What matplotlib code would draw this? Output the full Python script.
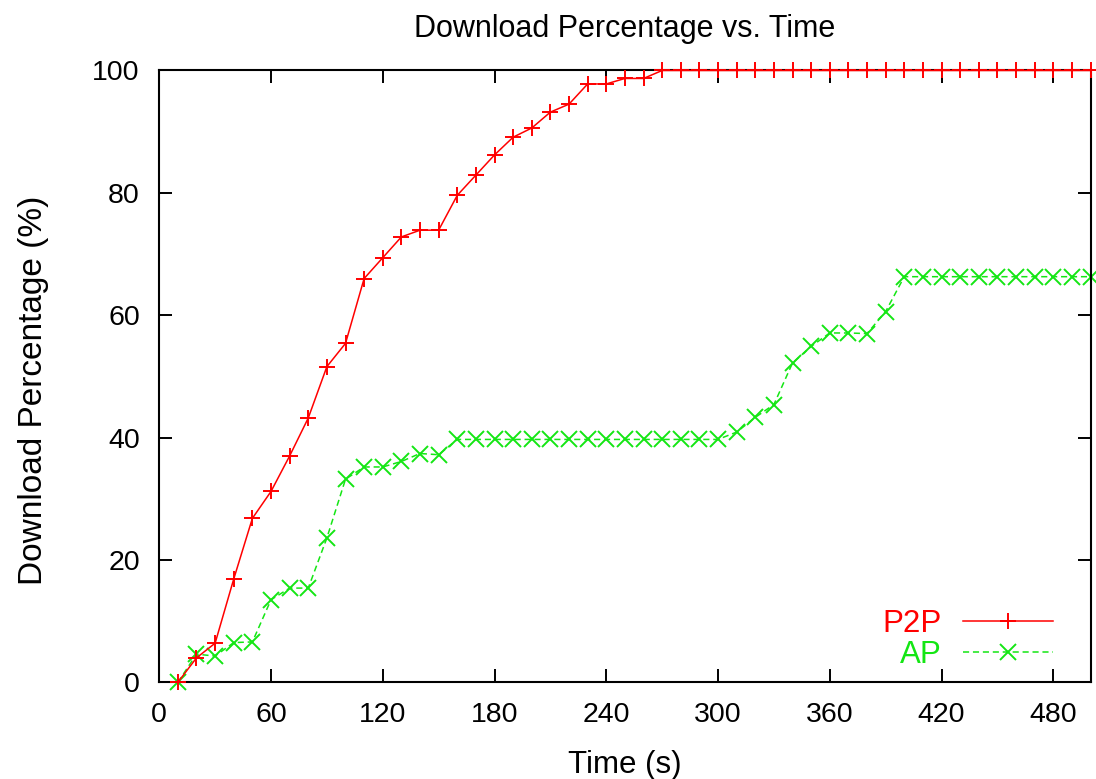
"""
Download percentage vs. time (P2P vs AP)
"""

import matplotlib
matplotlib.use('Agg')
import matplotlib.pyplot as plt

plt.rcParams['font.family'] = ['Liberation Sans', 'DejaVu Sans']

# time (s)
times = [10, 20, 30, 40, 50, 60, 70, 80, 90, 100,
         110, 120, 130, 140, 150, 160, 170, 180, 190, 200,
         210, 220, 230, 240, 250, 260, 270, 280, 290, 300,
         310, 320, 330, 340, 350, 360, 370, 380, 390, 400,
         410, 420, 430, 440, 450, 460, 470, 480, 490, 500]

# download percentage (%)
p2p = [0.0, 4.0, 6.4, 16.9, 26.8, 31.2, 37.0, 43.2, 51.6, 55.4,
       66.0, 69.4, 72.8, 73.9, 73.9, 79.6, 82.9, 86.2, 89.1, 90.6,
       93.2, 94.5, 97.8, 97.8, 98.7, 98.7, 100, 100, 100, 100,
       100, 100, 100, 100, 100, 100, 100, 100, 100, 100,
       100, 100, 100, 100, 100, 100, 100, 100, 100, 100]

ap = [0.0, 4.6, 4.3, 6.5, 6.6, 13.5, 15.4, 15.4, 23.6, 33.2,
      35.2, 35.2, 36.1, 37.4, 37.2, 39.7, 39.7, 39.7, 39.7, 39.7,
      39.7, 39.7, 39.7, 39.7, 39.7, 39.7, 39.7, 39.7, 39.7, 39.7,
      40.9, 43.3, 45.4, 52.2, 54.9, 57.1, 57.1, 57.0, 60.6, 66.3,
      66.3, 66.3, 66.3, 66.3, 66.3, 66.3, 66.3, 66.3, 66.3, 66.3]

x_ticks = [0, 60, 120, 180, 240, 300, 360, 420, 480]
y_ticks = [0, 20, 40, 60, 80, 100]

RED = '#ff0000'
GREEN = '#14e614'

fig = plt.figure(figsize=(10.96, 7.79), dpi=100)
ax = fig.add_axes([0.1453, 0.1241, 0.8497, 0.7854])

ax.plot(times, p2p, color=RED, linewidth=1.1, marker='+', markersize=12,
        markeredgewidth=1.4, label='P2P', clip_on=False, zorder=3)
ax.plot(times, ap, color=GREEN, linewidth=1.1, linestyle=(0, (4, 2.5)),
        marker='x', markersize=11, markeredgewidth=1.4, label='AP',
        clip_on=False, zorder=2)

ax.set_xlim(0, 500)
ax.set_ylim(0, 100)
ax.set_xticks(x_ticks)
ax.set_yticks(y_ticks)

# gnuplot-like frame: inward ticks on all sides
for s in ax.spines.values():
    s.set_linewidth(1.5)
ax.tick_params(direction='in', length=9.5, width=1.4, top=True, right=True,
               labelsize=20.5, pad=14)
ax.tick_params(axis='y', pad=14)

ax.set_title('Download Percentage vs. Time', fontsize=22, pad=24)
ax.set_xlabel('Time (s)', fontsize=22.5, labelpad=16)
ax.set_ylabel('Download Percentage (%)', fontsize=24, labelpad=31)
ax.yaxis.label.set_y(0.478)

leg = ax.legend(loc='lower right', bbox_to_anchor=(0.976, -0.006),
                frameon=False, markerfirst=False, labelcolor='linecolor',
                fontsize=22.5, handlelength=2.85, handletextpad=0.7,
                labelspacing=0.05, borderpad=0, numpoints=1)

plt.savefig('out.png', dpi=100)
